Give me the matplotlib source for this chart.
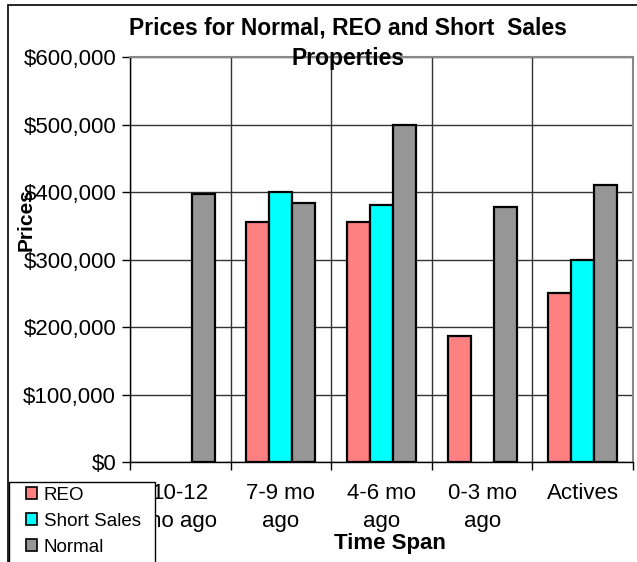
import numpy as np
import matplotlib
matplotlib.use("Agg")
import matplotlib.pyplot as plt
from matplotlib.patches import Rectangle
from matplotlib.ticker import FuncFormatter, FixedLocator

plt.rcParams['font.family'] = ['Liberation Sans', 'DejaVu Sans']

# data
categories = ["10-12\nmo ago", "7-9 mo\nago", "4-6 mo\nago", "0-3 mo\nago", "Actives"]
reo = [np.nan, 356000, 356000, 186000, 250000]
short_sales = [np.nan, 400000, 381000, 0, 300000]
normal = [397000, 384000, 500000, 378000, 411000]

series = [("REO", reo, "#FF8080"),
          ("Short Sales", short_sales, "#00FFFF"),
          ("Normal", normal, "#969696")]

fig = plt.figure(figsize=(6.37, 5.62), dpi=100)
ax = fig.add_axes([130 / 637, 1 - 462 / 562, 503 / 637, 405 / 562])

x = np.arange(len(categories))
w = 0.228
handles = []
for i, (name, vals, col) in enumerate(series):
    vals = np.array(vals, dtype=float)
    vals[vals == 0] = np.nan
    b = ax.bar(x + (i - 1) * w, vals, width=w, color=col, edgecolor="black",
               linewidth=1.6, zorder=3, label=name)
    handles.append(b)

ax.set_xlim(-0.5, len(categories) - 0.5)
ax.set_ylim(0, 600000)
ax.set_yticks(np.arange(0, 600001, 100000))
ax.yaxis.set_major_formatter(FuncFormatter(lambda v, p: f"${v:,.0f}"))

# category boundaries as major ticks, labels on minor ticks at centres
ax.xaxis.set_major_locator(FixedLocator(np.arange(-0.5, len(categories), 1.0)))
ax.xaxis.set_major_formatter(FuncFormatter(lambda v, p: ""))
ax.xaxis.set_minor_locator(FixedLocator(x))
ax.set_xticklabels(categories, minor=True, fontsize=16, linespacing=1.42)
ax.tick_params(axis="x", which="minor", length=0, pad=15)
ax.tick_params(axis="x", which="major", length=6, width=1, direction="out")
ax.tick_params(axis="y", length=6, width=1, labelsize=16, pad=4)

ax.grid(True, which="major", color="#333333", linewidth=1, zorder=0)
for s in ["top", "right"]:
    ax.spines[s].set_color("#888888")
    ax.spines[s].set_linewidth(1.5)
for s in ["left", "bottom"]:
    ax.spines[s].set_color("black")
    ax.spines[s].set_linewidth(1)

fig.text(348 / 637, 1 - 43 / 562, "Prices for Normal, REO and Short  Sales\nProperties",
         ha="center", va="center", fontsize=16.5, fontweight="bold", linespacing=1.4)
fig.text(26 / 637, 1 - 220 / 562, "Prices", rotation=90, ha="center", va="center",
         fontsize=15, fontweight="bold")
fig.text(390 / 637, 1 - 543 / 562, "Time Span", ha="center", va="center",
         fontsize=16, fontweight="bold")

# legend box: white frame running off the bottom of the chart
fig.patches.append(Rectangle((9 / 637, -0.1), 146 / 637, 0.1 + 80 / 562,
                             transform=fig.transFigure, facecolor="white",
                             edgecolor="black", linewidth=1, zorder=4))
leg = fig.legend(handles=handles, loc="upper left", bbox_to_anchor=(26 / 637, 1 - 487 / 562),
                 fontsize=13.5, frameon=False, handlelength=0.6,
                 handleheight=0.6, handletextpad=0.35, labelspacing=0.47,
                 borderpad=0, borderaxespad=0)
leg.set_zorder(5)
for h in leg.legend_handles:
    h.set_linewidth(1.2)

# outer chart border
fig.patches.append(Rectangle((8 / 637, -0.1), 1.2, 1.1 - 5 / 562, transform=fig.transFigure,
                             fill=False, edgecolor="black", linewidth=1.2, zorder=0))

fig.savefig("out.png", dpi=100)
